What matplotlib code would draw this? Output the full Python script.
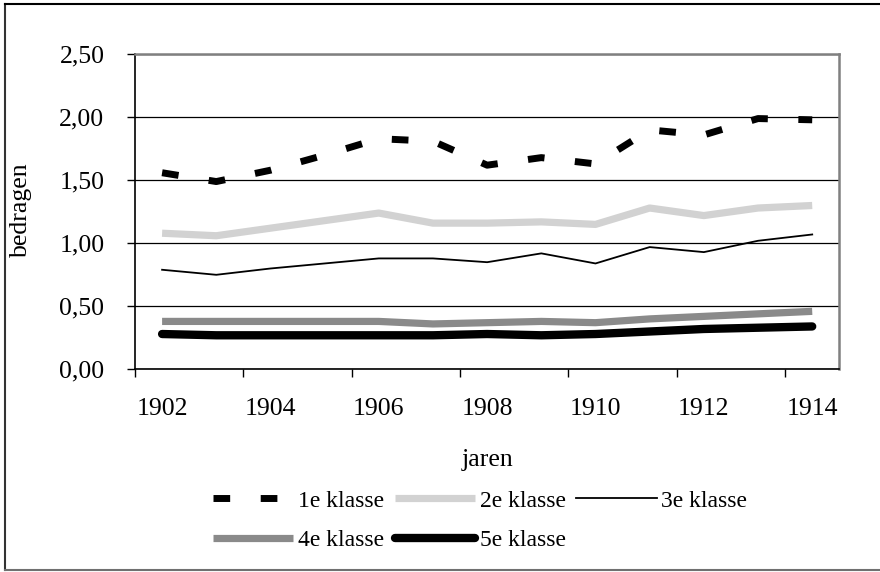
import matplotlib
matplotlib.use("Agg")
import matplotlib.pyplot as plt
from matplotlib.lines import Line2D
from matplotlib.ticker import FuncFormatter, FixedLocator

plt.rcParams['font.family'] = ['Liberation Serif', 'DejaVu Serif']

years = [1902, 1903, 1904, 1905, 1906, 1907, 1908, 1909, 1910, 1911, 1912, 1913, 1914]
klasse1 = [1.56, 1.49, 1.58, 1.70, 1.83, 1.81, 1.62, 1.68, 1.63, 1.90, 1.86, 1.99, 1.98]
klasse2 = [1.08, 1.06, 1.12, 1.18, 1.24, 1.16, 1.16, 1.17, 1.15, 1.28, 1.22, 1.28, 1.30]
klasse3 = [0.79, 0.75, 0.80, 0.84, 0.88, 0.88, 0.85, 0.92, 0.84, 0.97, 0.93, 1.02, 1.07]
klasse4 = [0.38, 0.38, 0.38, 0.38, 0.38, 0.36, 0.37, 0.38, 0.37, 0.40, 0.42, 0.44, 0.46]
klasse5 = [0.28, 0.27, 0.27, 0.27, 0.27, 0.27, 0.28, 0.27, 0.28, 0.30, 0.32, 0.33, 0.34]
labels = ['1e klasse', '2e klasse', '3e klasse', '4e klasse', '5e klasse']
label_years = [1902, 1904, 1906, 1908, 1910, 1912, 1914]

W, H = 880, 572
fig = plt.figure(figsize=(W / 100, H / 100), dpi=100)
ax = fig.add_axes([135 / W, 1 - 369.3 / H, (839.3 - 135) / W, (369.3 - 54.3) / H])

fs = 18.5
lfs = 17

h1, = ax.plot(years, klasse1, color='black', lw=5, solid_capstyle='butt', dash_capstyle='butt')
h1.set_dashes((2.4, 4.4))
h2, = ax.plot(years, klasse2, color='#d2d2d2', lw=5.2, solid_capstyle='butt')
h3, = ax.plot(years, klasse3, color='black', lw=1.3)
h4, = ax.plot(years, klasse4, color='#8a8a8a', lw=5.2, solid_capstyle='butt')
h5, = ax.plot(years, klasse5, color='black', lw=6, solid_capstyle='round')

ax.set_xlim(years[0] - 0.5, years[-1] + 0.5)
ax.set_ylim(0, 2.5)

# y axis
ax.set_yticks([0, 0.5, 1.0, 1.5, 2.0, 2.5])
ax.yaxis.set_major_formatter(FuncFormatter(lambda v, p: f"{v:.2f}".replace('.', ',')))
ax.grid(axis='y', color='black', lw=0.9)
ax.set_axisbelow(True)
ax.tick_params(axis='y', direction='out', length=5.5, width=1, pad=16.5, labelsize=fs, color='black')

# x axis: labels at categories, tick marks between categories
ax.set_xticks(label_years)
ax.set_xticklabels([str(y) for y in label_years])
ax.xaxis.set_minor_locator(FixedLocator([y - 0.5 for y in label_years]))
ax.tick_params(axis='x', which='major', length=0, pad=21, labelsize=fs)
ax.tick_params(axis='x', which='minor', direction='out', length=5.5, width=1, color='black')

for s in ['left', 'bottom']:
    ax.spines[s].set_color('black')
    ax.spines[s].set_linewidth(1.2)
for s in ['top', 'right']:
    ax.spines[s].set_color('#808080')
    ax.spines[s].set_linewidth(1.8)

ax.set_ylabel('bedragen', fontsize=fs)
ax.yaxis.set_label_coords((32 - 135) / (839.3 - 135), (369.3 - 210) / 315)
ax.set_xlabel('jaren', fontsize=fs)
ax.xaxis.set_label_coords(0.5, (369.3 - 449) / 315)

handles = [h1, h2, h3, h4, h5]
order = [0, 3, 1, 4, 2]
leg = fig.legend([handles[i] for i in order], [labels[i] for i in order],
                 loc='upper left', bbox_to_anchor=(213 / W, 1 - 490 / H),
                 ncol=3, frameon=False, fontsize=lfs, borderpad=0, borderaxespad=0,
                 handlelength=3.4, handletextpad=0.2, columnspacing=0.45,
                 labelspacing=0.75)

# outer chart frame
fig.add_artist(Line2D([5 / W, 5 / W], [1 - 3.5 / H, 1 - 570 / H], transform=fig.transFigure, color='#333333', lw=1.5))
fig.add_artist(Line2D([5 / W, 1.0], [1 - 3.5 / H, 1 - 3.5 / H], transform=fig.transFigure, color='black', lw=1.5))
fig.add_artist(Line2D([5 / W, 1.0], [1 - 570 / H, 1 - 570 / H], transform=fig.transFigure, color='#707070', lw=1.5))

fig.savefig('out.png', dpi=100)
